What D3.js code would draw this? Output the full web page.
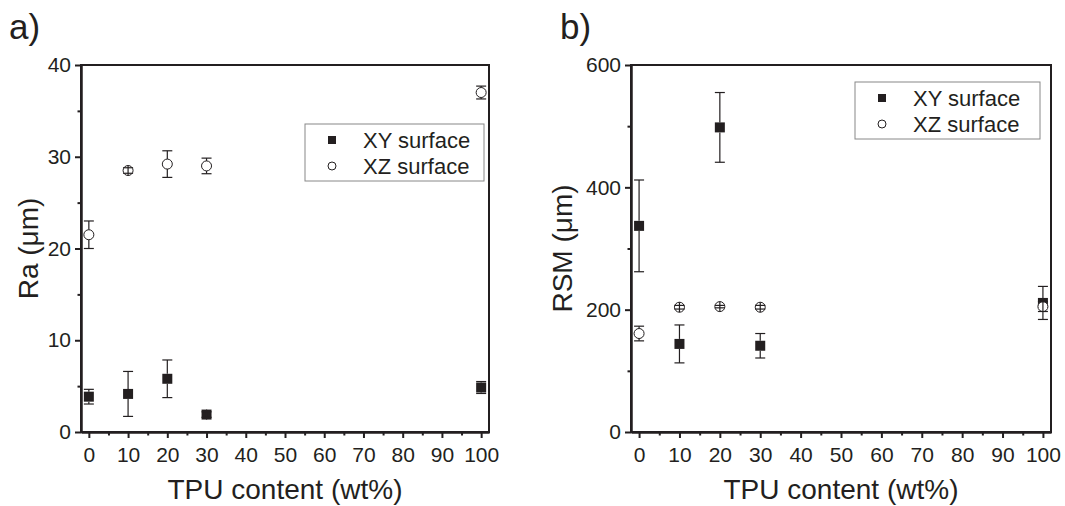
<!DOCTYPE html>
<html>
<head>
<meta charset="utf-8">
<script src="https://cdn.jsdelivr.net/npm/d3@7"></script>
<style>
  html, body { margin: 0; padding: 0; background: #fff; }
  svg { display: block; font-family: "Liberation Sans", Arial, sans-serif; }
</style>
</head>
<body>
<div id="chart"></div>
<script>
// TPU content (wt%) for every sample
var tpu = [0, 10, 20, 30, 100];
var xTicks = [0, 10, 20, 30, 40, 50, 60, 70, 80, 90, 100];
var xMinor = [5, 15, 25, 35, 45, 55, 65, 75, 85, 95];

// a) Ra (um)
var raXY = [3.85, 4.15, 5.8, 1.9, 4.85];
var raXYErr = [0.8, 2.45, 2.05, 0.3, 0.65];
var raXZ = [21.5, 28.5, 29.2, 29.0, 37.0];
var raXZErr = [1.5, 0.3, 1.45, 0.85, 0.7];
var raTicks = [0, 10, 20, 30, 40];
var raMinor = [5, 15, 25, 35];

// b) RSM (um)
var rsmXY = [337, 144, 498, 141, 211];
var rsmXYErr = [75, 31, 57, 20, 27];
var rsmXZ = [161, 204, 205, 204, 205];
var rsmXZErr = [12, 3, 2, 3, 8];
var rsmTicks = [0, 200, 400, 600];
var rsmMinor = [100, 300, 500];

var seriesNames = ["XY surface", "XZ surface"];

var INK = "#231f20";
var W = 1065, H = 506;

var svg = d3.select("#chart").append("svg")
	.attr("width", W).attr("height", H);

drawPanel({
	tag: "a)", tagX: 9, left: 81, right: 489, top: 65, bottom: 432,
	yMax: 40, yTicks: raTicks, yMinor: raMinor, yLabel: "Ra (\u03bcm)", yLabelX: 38,
	xy: raXY, xyErr: raXYErr, xz: raXZ, xzErr: raXZErr,
	legend: {x: 305, y: 124, w: 179, h: 57}
});
drawPanel({
	tag: "b)", tagX: 560, left: 631, right: 1051, top: 65, bottom: 432,
	yMax: 600, yTicks: rsmTicks, yMinor: rsmMinor, yLabel: "RSM (\u03bcm)", yLabelX: 572,
	xy: rsmXY, xyErr: rsmXYErr, xz: rsmXZ, xzErr: rsmXZErr,
	legend: {x: 855, y: 82, w: 185, h: 57}
});

function drawPanel(p) {
	var g = svg.append("g");
	var x = d3.scaleLinear().domain([-2, 102]).range([p.left, p.right]);
	var y = d3.scaleLinear().domain([0, p.yMax]).range([p.bottom, p.top]);

	// panel letter
	g.append("text").attr("x", p.tagX).attr("y", 39)
		.attr("font-size", 35).attr("fill", INK).text(p.tag);

	// frame
	g.append("rect").attr("x", p.left).attr("y", p.top)
		.attr("width", p.right - p.left).attr("height", p.bottom - p.top)
		.attr("fill", "none").attr("stroke", INK).attr("stroke-width", 2);

	// axes: major + minor ticks, outward
	var xAxis = g.append("g").attr("transform", "translate(0," + p.bottom + ")")
		.call(d3.axisBottom(x).tickValues(xTicks).tickSize(6).tickSizeOuter(0).tickPadding(9));
	g.append("g").attr("transform", "translate(0," + p.bottom + ")")
		.call(d3.axisBottom(x).tickValues(xMinor).tickSize(3.5).tickSizeOuter(0).tickFormat(""));
	var yAxis = g.append("g").attr("transform", "translate(" + p.left + ",0)")
		.call(d3.axisLeft(y).tickValues(p.yTicks).tickSize(6).tickSizeOuter(0).tickPadding(4));
	g.append("g").attr("transform", "translate(" + p.left + ",0)")
		.call(d3.axisLeft(y).tickValues(p.yMinor).tickSize(3.5).tickSizeOuter(0).tickFormat(""));

	g.selectAll(".domain").attr("stroke", INK).attr("stroke-width", 2);
	g.selectAll(".tick line").attr("stroke", INK).attr("stroke-width", 2);
	g.selectAll(".tick text").attr("font-size", 21).attr("fill", INK)
		.attr("font-family", "Liberation Sans, Arial, sans-serif");

	// axis titles
	g.append("text").attr("x", (p.left + p.right) / 2).attr("y", 499)
		.attr("text-anchor", "middle").attr("font-size", 28).attr("fill", INK)
		.text("TPU content (wt%)");
	g.append("text")
		.attr("transform", "translate(" + p.yLabelX + "," + (p.top + p.bottom) / 2 + ") rotate(-90)")
		.attr("text-anchor", "middle").attr("font-size", 28).attr("fill", INK)
		.text(p.yLabel);

	// data: XY squares first, XZ circles on top
	drawSeries(g, x, y, p.xy, p.xyErr, "square");
	drawSeries(g, x, y, p.xz, p.xzErr, "circle");

	// legend
	var L = p.legend;
	var lg = g.append("g");
	lg.append("rect").attr("x", L.x).attr("y", L.y).attr("width", L.w).attr("height", L.h)
		.attr("fill", "#fff").attr("stroke", "#888").attr("stroke-width", 1);
	var rowY = [L.y + 16, L.y + 42];
	lg.append("rect").attr("x", L.x + 23).attr("y", rowY[0] - 4).attr("width", 8).attr("height", 8)
		.attr("fill", INK);
	lg.append("circle").attr("cx", L.x + 27).attr("cy", rowY[1]).attr("r", 4)
		.attr("fill", "#fff").attr("stroke", INK).attr("stroke-width", 1);
	seriesNames.forEach(function(name, i) {
		lg.append("text").attr("x", L.x + 58).attr("y", rowY[i] + 8)
			.attr("font-size", 22).attr("fill", INK).text(name);
	});
}

function drawSeries(g, x, y, vals, errs, shape) {
	var r = 5;
	var cap = 5;
	var s = g.append("g");
	vals.forEach(function(v, i) {
		var cx = x(tpu[i]);
		var cy = y(v);
		var yTop = y(v + errs[i]);
		var yBot = y(v - errs[i]);
		// stems outside the marker, caps full width
		if (cy - yTop > r) {
			s.append("line").attr("x1", cx).attr("x2", cx).attr("y1", yTop).attr("y2", cy - r)
				.attr("stroke", INK).attr("stroke-width", 1.2);
			s.append("line").attr("x1", cx).attr("x2", cx).attr("y1", cy + r).attr("y2", yBot)
				.attr("stroke", INK).attr("stroke-width", 1.2);
		}
		if (shape == "square") {
			s.append("rect").attr("x", cx - r).attr("y", cy - r).attr("width", 2 * r).attr("height", 2 * r)
				.attr("fill", INK);
		} else {
			s.append("circle").attr("cx", cx).attr("cy", cy).attr("r", r)
				.attr("fill", "#fff").attr("stroke", INK).attr("stroke-width", 1);
		}
		if (cy - yTop <= r) {
			s.append("line").attr("x1", cx).attr("x2", cx).attr("y1", cy - r).attr("y2", cy + r)
				.attr("stroke", INK).attr("stroke-width", 1.2);
		}
		s.append("line").attr("x1", cx - cap).attr("x2", cx + cap).attr("y1", yTop).attr("y2", yTop)
			.attr("stroke", INK).attr("stroke-width", 1.2);
		s.append("line").attr("x1", cx - cap).attr("x2", cx + cap).attr("y1", yBot).attr("y2", yBot)
			.attr("stroke", INK).attr("stroke-width", 1.2);
	});
}
</script>
</body>
</html>
